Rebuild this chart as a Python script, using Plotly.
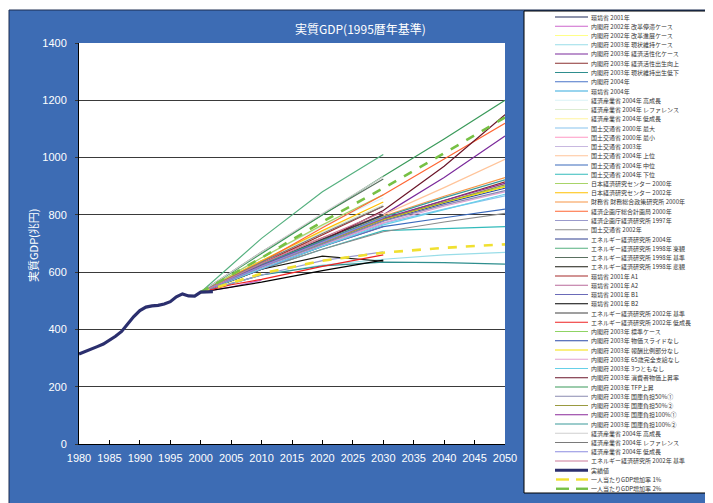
import plotly.graph_objects as go

# ---------------- data ----------------
ACTUAL_YEARS = list(range(1980, 2003))
ACTUAL_VALUES = [314, 322, 331, 340, 349, 361, 376, 393, 420, 445, 466, 478,
                 482, 484, 489, 497, 514, 524, 517, 516, 530, 532, 532]

Y30 = [2000, 2010, 2020, 2030]
Y50 = [2000, 2010, 2020, 2030, 2040, 2050]
Y10 = [2000, 2005, 2010]

SERIES_NAMES = [
    "環境省 2001年",
    "内閣府 2002年 改革停滞ケース",
    "内閣府 2002年 改革進展ケース",
    "内閣府 2003年 現状維持ケース",
    "内閣府 2003年 経済活性化ケース",
    "内閣府 2003年 経済活性出生向上",
    "内閣府 2003年 現状維持出生低下",
    "内閣府 2004年",
    "環境省 2004年",
    "経済産業省 2004年 高成長",
    "経済産業省 2004年 レファレンス",
    "経済産業省 2004年 低成長",
    "国土交通省 2000年 最大",
    "国土交通省 2000年 最小",
    "国土交通省 2003年",
    "国土交通省 2004年 上位",
    "国土交通省 2004年 中位",
    "国土交通省 2004年 下位",
    "日本経済研究センター 2000年",
    "日本経済研究センター 2002年",
    "財務省 財務総合政策研究所 2000年",
    "経済企画庁総合計画局 2000年",
    "経済企画庁経済研究所 1997年",
    "国土交通省 2002年",
    "エネルギー経済研究所 2004年",
    "エネルギー経済研究所 1998年 楽観",
    "エネルギー経済研究所 1998年 基準",
    "エネルギー経済研究所 1998年 悲観",
    "環境省 2001年 A1",
    "環境省 2001年 A2",
    "環境省 2001年 B1",
    "環境省 2001年 B2",
    "エネルギー経済研究所 2002年 基準",
    "エネルギー経済研究所 2002年 低成長",
    "内閣府 2003年 標準ケース",
    "内閣府 2003年 物価スライドなし",
    "内閣府 2003年 報酬比例部分なし",
    "内閣府 2003年 65歳完全支給なし",
    "内閣府 2003年 3つともなし",
    "内閣府 2003年 消費者物価上昇率",
    "内閣府 2003年 TFP上昇",
    "内閣府 2003年 国庫負担50%①",
    "内閣府 2003年 国庫負担50%②",
    "内閣府 2003年 国庫負担100%①",
    "内閣府 2003年 国庫負担100%②",
    "経済産業省 2004年 高成長",
    "経済産業省 2004年 レファレンス",
    "経済産業省 2004年 低成長",
    "エネルギー経済研究所 2002年 基準",
]

SERIES_YEARS = [
    Y30, Y10, Y10, Y50, Y50, Y50, Y50, Y30, Y30, Y30,
    Y30, Y30, Y50, Y30, Y30, Y50, Y50, Y50, Y30, Y30,
    Y50, Y50, Y30, Y50, Y30, Y30, Y30, Y30, Y30, Y30,
    Y30, Y30, Y30, [2000, 2005, 2010, 2020, 2030], Y50, Y50, Y50, Y50, Y50, Y50,
    Y50, Y50, Y50, Y50, Y50, Y30, Y30, Y30, Y30,
]

SERIES_VALUES = [
    [530, 615, 700, 780],
    [530, 548, 572],
    [530, 565, 615],
    [530, 590, 625, 645, 660, 669],
    [530, 640, 720, 800, 930, 1075],
    [530, 625, 705, 785, 850, 915],
    [530, 590, 622, 635, 633, 628],
    [530, 620, 695, 770],
    [530, 625, 710, 790],
    [530, 650, 760, 860],
    [530, 640, 740, 835],
    [530, 610, 690, 760],
    [530, 620, 700, 770, 820, 866],
    [530, 615, 695, 772],
    [530, 625, 705, 790],
    [530, 640, 720, 800, 895, 994],
    [530, 615, 690, 759, 790, 820],
    [530, 610, 680, 745, 752, 759],
    [530, 650, 765, 870],
    [530, 640, 745, 845],
    [530, 630, 715, 795, 865, 930],
    [530, 635, 755, 870, 995, 1120],
    [530, 590, 640, 671],
    [530, 610, 680, 741, 775, 805],
    [530, 625, 715, 800],
    [530, 718, 881, 1011],
    [530, 670, 800, 925],
    [530, 610, 656, 638],
    [530, 630, 730, 830],
    [530, 620, 700, 780],
    [530, 610, 690, 760],
    [530, 565, 605, 642],
    [530, 625, 715, 800],
    [530, 556, 575, 620, 660],
    [530, 625, 705, 785, 845, 900],
    [530, 620, 700, 780, 840, 893],
    [530, 622, 703, 783, 843, 898],
    [530, 615, 695, 772, 830, 880],
    [530, 612, 690, 765, 818, 872],
    [530, 620, 710, 815, 970, 1150],
    [530, 665, 800, 935, 1065, 1200],
    [530, 618, 698, 778, 835, 885],
    [530, 622, 703, 785, 845, 905],
    [530, 625, 706, 788, 850, 910],
    [530, 628, 710, 792, 860, 922],
    [530, 670, 805, 933],
    [530, 635, 735, 830],
    [530, 620, 705, 790],
    [530, 630, 720, 810],
]

ACTUAL_NAME = "実績値"
PER_CAPITA_NAMES = ["一人当たりGDP増加率 1%", "一人当たりGDP増加率 2%"]
PER_CAPITA_YEARS = [2000, 2010, 2020, 2030, 2040, 2050]
PER_CAPITA_1 = [530, 595, 640, 668, 685, 697]
PER_CAPITA_2 = [530, 650, 776, 893, 1015, 1140]

X_TICKS = list(range(1980, 2051, 5))
Y_TICKS = list(range(0, 1401, 200))

# ---------------- styles ----------------
SERIES_COLORS = [
    "#1f2a5a", "#cc66cc", "#ffff88", "#99dde8", "#7b2a9b", "#8b3030", "#2e8e8e",
    "#4a74c8", "#33aadd", "#d8f2f6", "#dcecd2", "#fff4a0", "#88c4ee", "#ff99c4",
    "#c8b8e0", "#ffc49a", "#3a6abc", "#33bbbb", "#a8d468", "#ffc000", "#f79646",
    "#ff6633", "#9a9acc", "#8c8c8c", "#2f3f8f", "#55b07f", "#5a7060", "#1a1a10",
    "#a52a2a", "#b86a9a", "#6a6ab8", "#000000", "#404040", "#ee2222", "#8fd464",
    "#2848a8", "#f5e000", "#e0a0d0", "#66d0e8", "#6a1428", "#3a9a5a", "#8a8ab0",
    "#9a9a40", "#8a2a9a", "#3a9a9a", "#cfcfcf", "#7a7a7a", "#8c8ce0", "#cc7a9a",
]
ACTUAL_COLOR = "#2b2f6e"
PC_COLORS = ["#f0e030", "#77c044"]

OFF = 8                      # page body margin
PAGE_W, PAGE_H = 713, 503
W, H = PAGE_W - OFF, PAGE_H - OFF
# plot area in page pixels
PL, PR, PT, PB = 79, 505, 43, 444
FONT = "Liberation Sans, Arial, Noto Sans CJK JP, sans-serif"
JFONT = "Noto Sans CJK JP, sans-serif"


def pxx(x):
    return (x - PL) / (PR - PL)


def pxy(y):
    return (PB - y) / (PB - PT)


fig = go.Figure()

for name, yrs, vals, col in zip(SERIES_NAMES, SERIES_YEARS, SERIES_VALUES, SERIES_COLORS):
    fig.add_trace(go.Scatter(x=yrs, y=vals, mode="lines", name=name,
                             line=dict(color=col, width=1.2), showlegend=False))

for name, vals, col in zip(PER_CAPITA_NAMES, [PER_CAPITA_1, PER_CAPITA_2], PC_COLORS):
    fig.add_trace(go.Scatter(x=PER_CAPITA_YEARS, y=vals, mode="lines", name=name,
                             line=dict(color=col, width=2.6, dash="dash"),
                             showlegend=False))

fig.add_trace(go.Scatter(x=ACTUAL_YEARS, y=ACTUAL_VALUES, mode="lines",
                         name=ACTUAL_NAME,
                         line=dict(color=ACTUAL_COLOR, width=3.2),
                         showlegend=False))

shapes = [
    # blue panel
    dict(type="rect", xref="paper", yref="paper", x0=pxx(9), x1=pxx(PAGE_W + 5),
         y0=pxy(10), y1=pxy(PAGE_H + 5), fillcolor="#3d6cb4",
         line=dict(color="#1c2c50", width=1), layer="below"),
    # white plot area
    dict(type="rect", xref="paper", yref="paper", x0=0, x1=1, y0=0, y1=1,
         fillcolor="white", line=dict(width=0), layer="below"),
    # legend box
    dict(type="rect", xref="paper", yref="paper", x0=pxx(524), x1=pxx(712),
         y0=pxy(11), y1=pxy(493), fillcolor="white",
         line=dict(color="black", width=1), layer="below"),
]

annotations = [
    dict(text="実質GDP(1995暦年基準)", xref="paper", yref="paper",
         x=pxx(360), y=pxy(29), showarrow=False, xanchor="center",
         yanchor="middle", font=dict(family=JFONT, size=12, color="white")),
    dict(text="実質GDP(兆円)", xref="paper", yref="paper",
         x=pxx(33), y=pxy(245), showarrow=False, textangle=-90,
         xanchor="center", yanchor="middle",
         font=dict(family=JFONT, size=11, color="white")),
]

# manual legend (plotly's own legend cannot be this compact)
legend_names = SERIES_NAMES + [ACTUAL_NAME] + PER_CAPITA_NAMES
legend_styles = ([(c, 1.2, "solid") for c in SERIES_COLORS]
                 + [(ACTUAL_COLOR, 3.2, "solid")]
                 + [(c, 2.4, "dash") for c in PC_COLORS])
y_first, y_step = 17.0, 9.25
for i, (nm, (col, wd, ds)) in enumerate(zip(legend_names, legend_styles)):
    yy = y_first + i * y_step
    if ds == "dash":
        for a, b in [(556, 569), (576, 588)]:
            shapes.append(dict(type="line", xref="paper", yref="paper",
                               x0=pxx(a), x1=pxx(b), y0=pxy(yy), y1=pxy(yy),
                               line=dict(color=col, width=wd)))
    else:
        shapes.append(dict(type="line", xref="paper", yref="paper",
                           x0=pxx(555), x1=pxx(588), y0=pxy(yy), y1=pxy(yy),
                           line=dict(color=col, width=wd)))
    annotations.append(dict(text=nm, xref="paper", yref="paper",
                            x=pxx(589), y=pxy(yy), showarrow=False,
                            xanchor="left", yanchor="middle",
                            font=dict(family=JFONT, size=6, color="#333333")))

fig.update_layout(
    width=W, height=H,
    margin=dict(l=PL - OFF, r=PAGE_W - PR, t=PT - OFF, b=PAGE_H - PB, pad=0),
    paper_bgcolor="white", plot_bgcolor="rgba(0,0,0,0)",
    showlegend=False,
    shapes=shapes, annotations=annotations,
    xaxis=dict(range=[1980, 2050], tickvals=X_TICKS, ticks="inside",
               ticklen=4, tickcolor="black", showline=True, linecolor="black",
               linewidth=1, showgrid=False, zeroline=False,
               tickfont=dict(family=FONT, size=11, color="white"),
               ticklabelstandoff=4),
    yaxis=dict(range=[0, 1400], tickvals=Y_TICKS, ticks="outside",
               ticklen=3, tickcolor="#333333", showline=True,
               linecolor="black", linewidth=1, showgrid=True,
               gridcolor="#3a3a3a", gridwidth=1, zeroline=False,
               tickfont=dict(family=FONT, size=11, color="white"),
               ticklabelstandoff=6),
)

fig.write_html("out.html")
